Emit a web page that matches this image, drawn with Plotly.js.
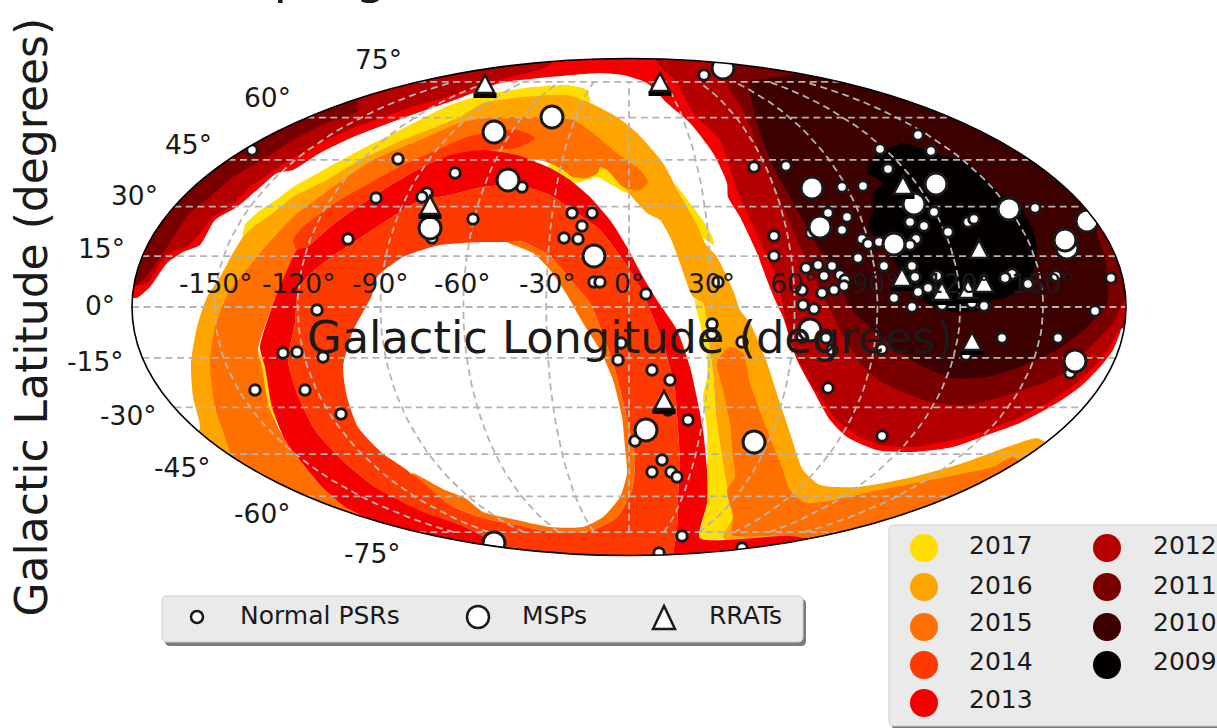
<!DOCTYPE html>
<html>
<head>
<meta charset="utf-8">
<script src="https://cdn.plot.ly/plotly-3.0.1.min.js"></script>
<style>html,body{margin:0;padding:0;background:#fff;overflow:hidden}#chart{width:1217px;height:728px}</style>
</head>
<body>
<div id="chart"></div>
<script>
// All positions are in map-plane units of the Mollweide sky map.
const area2017 = [
 [[243,238],[245,225],[257,213],[280,197],[293,187],[320,172],[360,150],[400,130],[450,105],[483,95],[533,87],[567,85],[587,90],[590,103],[567,100],[523,105],[483,112],[403,150],[327,190],[273,225],[253,240]],
 [[548,167],[573,183],[590,179],[597,177],[610,184],[627,193],[640,190],[620,170],[590,165],[560,160]],
 [[695,300],[700,323],[707,357],[707,377],[703,397],[707,430],[707,477],[707,503],[700,538],[723,538],[733,517],[727,487],[717,423],[713,373],[710,350],[703,303]],
 [[676,185],[690,203],[704,222],[712,236],[714,245],[700,235],[685,210]],
 [[258,350],[267,370],[276,420],[274,425],[266,400],[262,375]]
];
const area2016 = [
 [[191,363],[197,327],[207,297],[220,277],[233,253],[243,237],[253,227],[273,213],[293,197],[327,180],[360,160],[403,140],[460,117],[483,103],[523,97],[567,95],[590,103],[617,117],[637,133],[663,163],[680,195],[697,225],[705,243],[717,257],[733,290],[740,310],[750,323],[767,363],[780,403],[790,433],[803,470],[820,485],[857,487],[913,477],[963,463],[1007,447],[1037,438],[1045,442],[1060,450],[1040,490],[800,545],[723,538],[733,517],[727,487],[717,423],[713,373],[710,350],[703,303],[693,297],[680,263],[670,237],[660,220],[647,213],[628,192],[620,180],[600,165],[550,160],[517,155],[450,160],[400,175],[350,200],[300,240],[265,300],[255,340],[255,370],[270,420],[300,470],[340,510],[360,530],[220,490],[190,445],[200,428],[193,397]]
];
const area2015 = [
 [[232,460],[225,437],[215,407],[210,363],[215,327],[225,300],[230,291],[260,253],[293,217],[333,187],[373,160],[420,140],[460,123],[483,118],[533,117],[573,120],[593,133],[617,153],[640,170],[648,182],[640,190],[623,187],[607,170],[600,167],[598,173],[587,178],[573,177],[560,168],[540,160],[517,160],[450,158],[400,175],[350,205],[300,250],[272,307],[258,350],[262,367],[269,407],[285,440],[302,463],[322,487],[345,507],[375,522],[390,535],[230,490]],
 [[732,535],[733,517],[727,490],[735,477],[733,457],[730,423],[723,390],[717,362],[730,347],[743,353],[750,383],[767,430],[783,470],[790,490],[807,503],[880,490],[930,480],[993,467],[1013,457],[1030,480],[850,560],[800,545],[790,536]],
 [[412,473],[445,490],[465,498],[483,512],[517,520],[550,527],[583,527],[603,517],[620,497],[627,473],[625,447],[622,417],[613,380],[600,350],[583,323],[567,295],[550,270],[533,253],[507,242],[523,242],[550,256],[573,283],[590,303],[613,363],[630,430],[635,457],[632,490],[617,517],[590,531],[550,532],[517,525],[483,518],[450,505],[412,477]]
];
const area2014 = [
 [[293,240],[303,227],[337,202],[370,183],[403,165],[437,150],[470,136],[517,130],[535,138],[517,148],[483,150],[450,155],[417,170],[383,190],[353,210],[330,227],[307,247],[297,250]],
 [[412,475],[382,453],[358,427],[347,397],[343,367],[352,333],[372,295],[377,277],[403,257],[440,245],[483,242],[507,242],[523,242],[550,256],[573,283],[590,303],[613,363],[630,430],[635,457],[632,490],[617,517],[590,531],[550,532],[517,525],[483,518],[450,505],[412,475],[418,510],[465,527],[500,545],[530,560],[673,570],[673,555],[677,530],[678,497],[680,463],[678,430],[675,390],[663,343],[647,303],[640,287],[623,260],[600,230],[577,213],[550,195],[517,185],[483,187],[450,195],[417,202],[383,223],[357,240],[330,258],[307,277],[298,290],[295,323],[288,360],[297,393],[315,430],[342,460],[375,487],[418,510]]
];
const area2013 = [
 [[390,535],[375,522],[345,507],[322,487],[302,463],[285,440],[272,407],[265,367],[260,347],[272,307],[285,275],[297,250],[307,247],[330,227],[353,210],[383,190],[417,170],[450,155],[483,150],[517,155],[550,168],[570,180],[590,197],[610,220],[627,247],[643,277],[657,300],[677,330],[690,367],[698,403],[703,430],[707,470],[707,503],[700,538],[790,536],[830,545],[830,570],[673,570],[673,555],[677,530],[678,497],[680,463],[678,430],[675,390],[663,343],[647,303],[640,287],[623,260],[600,230],[577,213],[550,195],[517,185],[483,187],[450,195],[417,202],[383,223],[357,240],[330,258],[307,277],[298,290],[295,323],[288,360],[297,393],[315,430],[342,460],[375,487],[418,510],[465,527],[500,545],[530,560],[500,570]],
 [[110,305],[133,298],[137,298],[150,287],[167,263],[183,252],[200,245],[215,220],[237,207],[257,190],[277,173],[293,170],[320,153],[353,137],[403,118],[460,98],[500,83],[550,77],[600,73],[623,75],[647,83],[667,103],[690,123],[713,153],[727,183],[728,197],[740,217],[757,253],[767,280],[775,300],[783,317],[797,360],[813,390],[830,420],[847,437],[877,450],[913,452],[953,447],[987,435],[1020,423],[1057,403],[1080,387],[1100,367],[1113,350],[1120,333],[1123,325],[1150,330],[1160,40],[100,40]]
];
const area2012 = [
 [[115,290],[132,287],[148,282],[160,263],[175,250],[187,247],[200,233],[213,217],[230,207],[250,187],[270,173],[290,160],[320,143],[353,128],[403,110],[460,93],[500,80],[547,67],[553,62],[555,40],[110,40]],
 [[653,40],[657,62],[677,83],[693,113],[720,140],[737,190],[760,240],[778,283],[790,340],[800,363],[817,393],[837,420],[860,437],[880,445],[913,447],[953,440],[987,430],[1020,417],[1057,397],[1080,380],[1103,357],[1120,330],[1135,320],[1150,200],[1000,40]]
];
const area2011 = [
 [[120,290],[133,287],[143,280],[163,253],[190,213],[210,197],[233,177],[267,157],[293,140],[327,123],[357,112],[357,100],[340,70],[110,200]],
 [[735,45],[737,65],[727,83],[743,110],[760,153],[780,200],[800,247],[818,285],[830,310],[840,330],[863,367],[887,385],[930,402],[967,405],[1000,397],[1057,377],[1087,350],[1113,323],[1125,300],[1145,300],[1145,45]]
];
const area2010 = [
 [[790,60],[795,73],[770,78],[750,82],[757,123],[770,160],[790,197],[812,237],[835,275],[852,310],[877,333],[897,350],[920,365],[953,378],[987,377],[1020,367],[1057,350],[1087,327],[1107,303],[1108,287],[1105,257],[1097,230],[1120,200],[900,50]]
];
const area2009 = [
 [[868,167],[877,153],[893,147],[903,143],[920,148],[940,155],[963,160],[980,173],[1000,193],[1017,203],[1030,223],[1037,247],[1033,273],[1020,290],[1000,300],[993,300],[980,310],[953,312],[927,303],[920,293],[903,273],[890,257],[877,240],[868,227],[873,210],[873,193],[883,183],[868,173]]
];
const years = ['2017','2016','2015','2014','2013','2012','2011','2010','2009'];
const yearColors = ['#FFDF00','#FFA500','#FF7000','#FF3A00','#F50000','#B40000','#7A0000','#3D0000','#050000'];
const yearAreas = [area2017,area2016,area2015,area2014,area2013,area2012,area2011,area2010,area2009];

const normalPsrs = [[252,150],[398,159],[376,198],[348,239],[455,173],[427,193],[422,197],[432,238],[704,75],[522,187],[473,219],[572,213],[592,213],[582,226],[564,238],[578,239],[594,282],[600,282],[646,294],[718,282],[754,167],[786,166],[774,236],[774,256],[918,135],[880,149],[931,151],[888,169],[842,187],[863,186],[828,213],[847,217],[842,230],[811,233],[1035,208],[934,212],[910,222],[924,226],[948,232],[968,222],[974,219],[862,239],[868,244],[879,242],[916,239],[910,245],[858,258],[806,268],[818,265],[832,266],[824,276],[840,275],[845,280],[844,286],[802,290],[822,293],[834,290],[884,266],[912,266],[915,277],[894,298],[918,292],[928,288],[937,276],[1028,284],[1012,274],[1005,278],[1056,276],[1111,278],[803,305],[814,309],[912,307],[942,305],[984,306],[972,303],[1095,311],[826,338],[832,350],[882,349],[1002,338],[1058,338],[966,355],[1070,373],[828,388],[882,436],[802,337],[317,310],[283,353],[297,352],[323,357],[255,390],[305,390],[341,414],[712,324],[712,334],[742,342],[621,343],[618,360],[652,370],[670,380],[668,410],[688,420],[635,441],[662,460],[652,472],[671,472],[677,477],[682,536],[659,553],[742,548]];
const mspPulsars = [[430,228],[494,132],[552,117],[508,180],[594,256],[723,68],[812,188],[820,227],[914,204],[936,184],[1009,209],[894,244],[1067,248],[1065,240],[1087,221],[1075,361],[810,330],[646,430],[754,442],[494,543]];
const rratPulsars = [[430,205],[485,84],[660,82],[903,185],[979,249],[902,277],[942,291],[968,289],[984,283],[972,341],[664,400]];

const latLabels = ['75°','60°','45°','30°','15°','0°','-15°','-30°','-45°','-60°','-75°'];
const latLabelX = [378,267,188,134,101,100,95,128,182,262,372];
const latLabelY = [59,97,144,195,248,305,361,415,467,513,553];
const lonLabels = ['-150°','-120°','-90°','-60°','-30°','0°','30°','60°','90°','120°','150°'];
const lonLabelX = [215,298,380,462,547,629,711,793,875,959,1043];
const lonLabelRow = 283;
const meridians = [-150,-120,-90,-60,-30,0,30,60,90,120,150];
const parallels = [-75,-60,-45,-30,-15,0,15,30,45,60,75];

const CX=629, CY=307, RX=497, RY=248.5;
function auxAngle(latDeg){
  const phi=latDeg*Math.PI/180; let t=phi;
  for(let i=0;i<40;i++){ const d=(2*t+Math.sin(2*t)-Math.PI*Math.sin(phi))/(2+2*Math.cos(2*t)+1e-9); t-=d; }
  return t;
}
function polyXY(list){
  const x=[],y=[];
  list.forEach(p=>{p.forEach(q=>{x.push(q[0]);y.push(q[1]);}); x.push(p[0][0]); y.push(p[0][1]); x.push(null); y.push(null);});
  return {x,y};
}
const traces=[];
yearAreas.forEach((a,i)=>{
  const c=polyXY(a);
  traces.push({type:'scatter',mode:'lines',x:c.x,y:c.y,fill:'toself',fillcolor:yearColors[i],line:{width:0,color:yearColors[i],shape:'spline',smoothing:0.6},name:years[i],hoverinfo:'skip',showlegend:false});
});
const gridStyle={color:'#b4b4b4',width:1.8,dash:'7px,4.5px'};
const gx=[],gy=[];
meridians.forEach(lon=>{
  for(let lat=-75;lat<=75;lat+=3){const t=auxAngle(lat); gx.push(CX+RX*(lon/180)*Math.cos(t)); gy.push(CY-RY*Math.sin(t));}
  gx.push(null);gy.push(null);
});
parallels.forEach(lat=>{
  const t=auxAngle(lat); const h=CY-RY*Math.sin(t);
  gx.push(CX-RX*Math.cos(t),CX+RX*Math.cos(t),null); gy.push(h,h,null);
});
traces.push({type:'scatter',mode:'lines',x:gx,y:gy,line:gridStyle,hoverinfo:'skip',showlegend:false,name:'grid'});
const edge='#1a1a1a';
traces.push({type:'scatter',mode:'markers',name:'Normal PSRs',x:normalPsrs.map(p=>p[0]),y:normalPsrs.map(p=>p[1]),marker:{symbol:'circle',size:10.5,color:'#fff',line:{color:edge,width:3}},showlegend:false});
traces.push({type:'scatter',mode:'markers',name:'MSPs',x:mspPulsars.map(p=>p[0]),y:mspPulsars.map(p=>p[1]),marker:{symbol:'circle',size:22,color:'#fff',line:{color:edge,width:3}},showlegend:false});
traces.push({type:'scatter',mode:'markers',name:'RRATs',x:rratPulsars.map(p=>p[0]),y:rratPulsars.map(p=>p[1]),marker:{symbol:'triangle-up',size:12,color:'#fff',line:{color:edge,width:1}},showlegend:false});

const k=0.5523;
const ellipse=`M ${CX-RX},${CY} C ${CX-RX},${CY-k*RY} ${CX-k*RX},${CY-RY} ${CX},${CY-RY} C ${CX+k*RX},${CY-RY} ${CX+RX},${CY-k*RY} ${CX+RX},${CY} C ${CX+RX},${CY+k*RY} ${CX+k*RX},${CY+RY} ${CX},${CY+RY} C ${CX-k*RX},${CY+RY} ${CX-RX},${CY+k*RY} ${CX-RX},${CY} Z`;
function rbox(x0,y0,x1,y1,r){return `M ${x0+r},${y0} L ${x1-r},${y0} Q ${x1},${y0} ${x1},${y0+r} L ${x1},${y1-r} Q ${x1},${y1} ${x1-r},${y1} L ${x0+r},${y1} Q ${x0},${y1} ${x0},${y1-r} L ${x0},${y0+r} Q ${x0},${y0} ${x0+r},${y0} Z`;}
const base={xref:'x',yref:'y',layer:'above'};
const shapes=[
 {...base,type:'path',path:`M -20,-20 L 1240,-20 L 1240,750 L -20,750 Z ${ellipse}`,fillrule:'evenodd',fillcolor:'#fff',line:{width:0}},
 {...base,type:'path',path:ellipse,fillcolor:'rgba(0,0,0,0)',line:{color:'#000',width:1.6}},
 {...base,type:'path',path:rbox(165,599,806,646,5),fillcolor:'#7a7a7a',line:{width:0}},
 {...base,type:'path',path:rbox(162,596,803,642,5),fillcolor:'#eaeaea',line:{color:'#cfcfcf',width:1}},
 {...base,type:'path',path:rbox(892,528,1240,730,5),fillcolor:'#7a7a7a',line:{width:0}},
 {...base,type:'path',path:rbox(889,525,1240,726,5),fillcolor:'#eaeaea',line:{color:'#cfcfcf',width:1}}
];
// RRAT glyphs: taller-than-wide triangles anchored at each RRAT's position on the axes
rratPulsars.forEach(p=>{
  const anchor={...base,type:'path',xsizemode:'pixel',ysizemode:'pixel',xanchor:p[0],yanchor:p[1]};
  shapes.push({...anchor,path:'M -11.5,-9 L 11.5,-9 L 11.5,-14 L -11.5,-14 Z',fillcolor:'#000',line:{width:0}});
  shapes.push({...anchor,path:'M 0,9 L -9.5,-9 L 9.5,-9 Z',fillcolor:'#fff',line:{color:edge,width:2.5}});
});
// legend glyphs
const legendColX=[924,1107], legendRowY=[548,587,627,665,703];
years.forEach((y,i)=>{
  const col=i<5?0:1,row=i<5?i:i-5, cx=legendColX[col], cy=legendRowY[row];
  shapes.push({...base,type:'circle',x0:cx-14,x1:cx+14,y0:cy-14,y1:cy+14,fillcolor:yearColors[i],line:{width:0}});
});
shapes.push({...base,type:'circle',x0:191,x1:203,y0:611,y1:623,fillcolor:'#fff',line:{color:edge,width:2.5}});
shapes.push({...base,type:'circle',x0:467,x1:489,y0:606,y1:628,fillcolor:'#fff',line:{color:edge,width:2.5}});
shapes.push({...base,type:'path',path:'M 664,606 L 653,629 L 675,629 Z',fillcolor:'#fff',line:{color:edge,width:2.5}});

const F='DejaVu Sans';
const ann=(text,x,y,size,extra)=>Object.assign({text,x,y,xref:'x',yref:'y',showarrow:false,xanchor:'center',yanchor:'middle',font:{family:F,size,color:'#1a1a1a'}},extra||{});
const annotations=[];
latLabels.forEach((t,i)=>annotations.push(ann(t,latLabelX[i],latLabelY[i],26.5)));
lonLabels.forEach((t,i)=>annotations.push(ann(t,lonLabelX[i],lonLabelRow,26.5)));
annotations.push(ann('Galactic Longitude (degrees)',630,338,44.7));
annotations.push(ann('Galactic Latitude (degrees)',31,317.5,44,{textangle:-90}));
annotations.push(ann('Normal PSRs',238,615,25,{xanchor:'left'}));
annotations.push(ann('MSPs',520,615,25,{xanchor:'left'}));
annotations.push(ann('RRATs',707,615,25,{xanchor:'left'}));
const legendTextX=[967,1151], legendTextY=[545,585,622,661,699];
years.forEach((y,i)=>{const col=i<5?0:1,row=i<5?i:i-5; annotations.push(ann(y,legendTextX[col],legendTextY[row],25,{xanchor:'left'}));});

const layout={
 width:1217,height:728,autosize:false,
 margin:{l:0,r:0,t:0,b:0,pad:0},
 paper_bgcolor:'#fff',plot_bgcolor:'#fff',showlegend:false,
 title:{text:'progress',x:0.2247,xanchor:'left',y:1.0,yanchor:'bottom',pad:{b:7},font:{family:F,size:50,color:'#1a1a1a'}},
 xaxis:{range:[0,1217],visible:false,fixedrange:true},
 yaxis:{range:[728,0],visible:false,fixedrange:true},
 shapes,annotations,hovermode:false
};
Plotly.newPlot('chart',traces,layout,{displayModeBar:false,staticPlot:true});
</script>
</body>
</html>
